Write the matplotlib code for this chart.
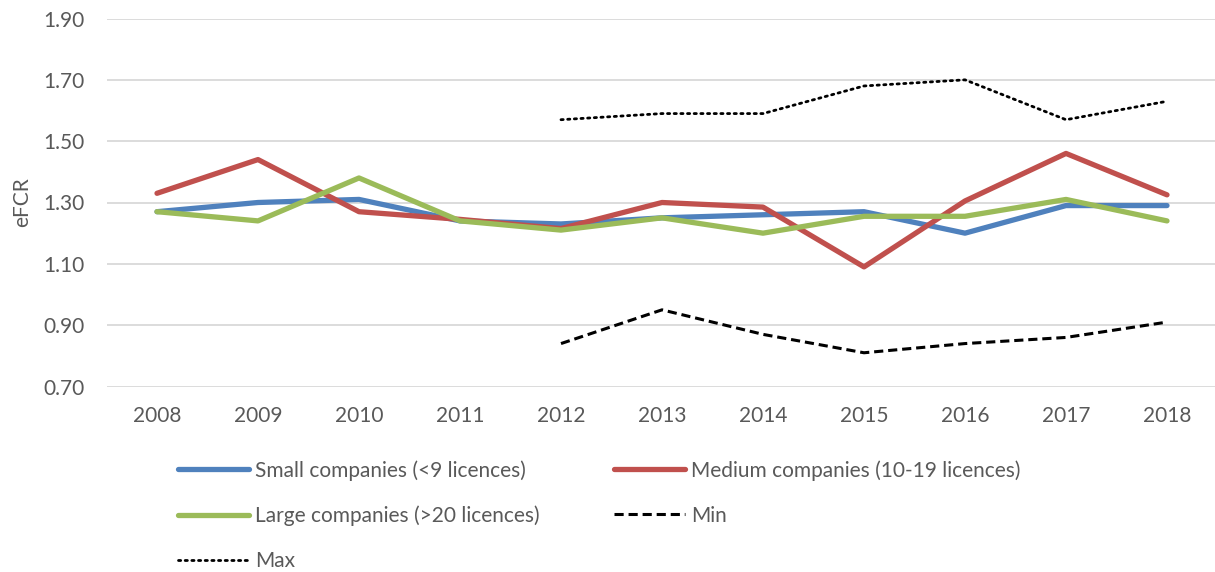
import matplotlib
matplotlib.use("Agg")
import matplotlib.pyplot as plt

years = ["2008", "2009", "2010", "2011", "2012", "2013", "2014", "2015", "2016", "2017", "2018"]
small = [1.27, 1.30, 1.31, 1.24, 1.23, 1.25, 1.26, 1.27, 1.20, 1.29, 1.29]
medium = [1.33, 1.44, 1.27, 1.245, 1.215, 1.30, 1.285, 1.09, 1.305, 1.46, 1.325]
large = [1.27, 1.24, 1.38, 1.24, 1.21, 1.25, 1.20, 1.255, 1.255, 1.31, 1.24]
min_years = ["2012", "2013", "2014", "2015", "2016", "2017", "2018"]
min_vals = [0.84, 0.95, 0.87, 0.81, 0.84, 0.86, 0.91]
max_vals = [1.57, 1.59, 1.59, 1.68, 1.70, 1.57, 1.63]
yticks = [0.70, 0.90, 1.10, 1.30, 1.50, 1.70, 1.90]

plt.rcParams['font.family'] = ['Lato', 'DejaVu Sans']
TXT = '#595959'
FS = 15

fig = plt.figure(figsize=(12.15, 5.72), dpi=100)
W, H = 1215, 572
ax = fig.add_axes([107 / W, 1 - 386.5 / H, (W - 107) / W, (386.5 - 18.5) / H])

x = list(range(len(years)))
xm = [years.index(y) for y in min_years]

l_small, = ax.plot(x, small, color='#4F81BD', lw=3.8, solid_capstyle='round', label='Small companies (<9 licences)')
l_med, = ax.plot(x, medium, color='#C0504D', lw=3.8, solid_capstyle='round', label='Medium companies (10-19 licences)')
l_large, = ax.plot(x, large, color='#9BBB59', lw=3.8, solid_capstyle='round', label='Large companies (>20 licences)')
l_min, = ax.plot(xm, min_vals, color='black', lw=2.2, linestyle=(0, (3.0, 1.6)), label='Min')
l_max, = ax.plot(xm, max_vals, color='black', lw=2.0, linestyle=(0, (0.8, 1.6)), dash_capstyle='round', label='Max')

ax.set_xlim(-0.495, (W - 157) / 101)
ax.set_ylim(0.70, 1.90)
ax.set_yticks(yticks)
ax.set_yticklabels([f"{v:.2f}" for v in yticks])
ax.set_xticks(x)
ax.set_xticklabels(years)
ax.grid(axis='y', color='#D9D9D9', lw=1.3)
ax.set_axisbelow(True)
for s in ax.spines.values():
    s.set_visible(False)
ax.tick_params(axis='both', length=0, labelsize=FS, colors=TXT)
ax.tick_params(axis='y', pad=16)
ax.tick_params(axis='x', pad=14)
ax.set_ylabel('eFCR', fontsize=FS, color=TXT, labelpad=8)

common = dict(frameon=False, fontsize=FS, handlelength=3.4, handletextpad=0.3,
              labelspacing=1.2, labelcolor=TXT, borderaxespad=0, borderpad=0)
leg1 = fig.legend(handles=[l_small, l_large, l_max], loc='upper left',
                  bbox_to_anchor=(178 / W, 1 - 460 / H), **common)
leg2 = fig.legend(handles=[l_med, l_min], loc='upper left',
                  bbox_to_anchor=(614 / W, 1 - 460 / H), **common)

fig.savefig('out.png', dpi=100)
